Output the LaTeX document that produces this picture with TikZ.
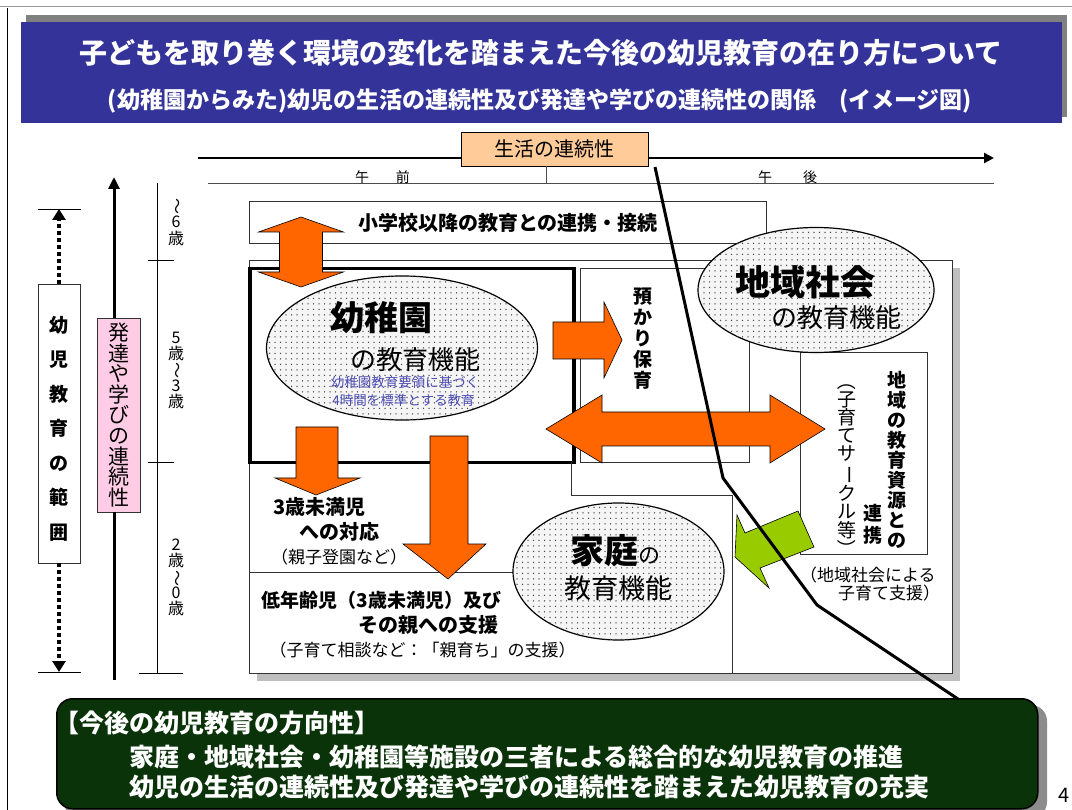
\documentclass[tikz,border=0pt]{standalone}
\usepackage{fontspec}
\usepackage{graphicx}
\setmainfont{Noto Sans CJK JP}
\usetikzlibrary{shapes.geometric,patterns.meta,arrows.meta}
\newcommand{\fs}[1]{\fontsize{#1}{#1}\selectfont}
\newcommand{\vfs}[2]{\fontsize{#1}{#2}\selectfont}
\newcommand{\rt}[1]{\rotatebox[origin=c]{-90}{#1}}
\definecolor{titleblue}{HTML}{333399}
\definecolor{arrorange}{HTML}{FF6600}
\definecolor{peach}{HTML}{FFCC99}
\definecolor{pinkbox}{HTML}{FFCCE6}
\definecolor{darkgreen}{HTML}{0A330A}
\definecolor{limegreen}{HTML}{99CC00}
\definecolor{noteblue}{HTML}{4D4DB3}
\tikzset{
  thinbox/.style={draw=black!80, line width=0.8pt, fill=white, inner sep=0pt},
  blockarrow/.style={fill=arrorange, draw=black, line width=0.6pt, line join=miter},
  greenarrow/.style={fill=limegreen, draw=black, line width=0.6pt, line join=miter},
  dotell/.style={ellipse, draw=black, line width=1.2pt, fill=black!4, inner sep=0pt,
     postaction={pattern={Dots[distance=5.5pt,radius=0.75pt]}, pattern color=black!70}},
  vtxt/.style={align=center, inner sep=0pt},
  lbl/.style={inner sep=0pt},
  divline/.style={draw=black!80, line width=0.8pt},
}
\begin{document}
\begin{tikzpicture}[x=1pt,y=-1pt]
\useasboundingbox[fill=white] (0,0) rectangle (1072,810);
% page frame
\draw[black!40, line width=1pt] (0,7) -- (1072,7);
\draw[black, line width=1pt] (7,8) -- (7,810);
% title
\fill[black!50] (26,15) rectangle (1067,117);
\node[fill=titleblue, minimum width=1041, minimum height=101, anchor=north west, inner sep=0] (title) at (20.5,22) {};
\node[lbl, text=white, font=\bfseries\fs{28}] (t1) at (541,53) {子どもを取り巻く環境の変化を踏まえた今後の幼児教育の在り方について};
\node[lbl, text=white, font=\bfseries\fs{23}] (t2) at (540,100.5) {(幼稚園からみた)幼児の生活の連続性及び発達や学びの連続性の関係\quad(イメージ図)};

% timeline
\node[draw=black, line width=0.8pt, fill=peach, minimum width=187, minimum height=34, inner sep=0, font=\fs{20}] (life) at (554.5,149) {生活の連続性};
\coordinate (tlL) at (198,158);
\coordinate (tlR) at (994,158);
\draw[line width=2.5pt] (tlL) -- (tlL -| life.west);
\draw[line width=2.5pt, -{Triangle[length=10pt,width=10pt]}] (tlR -| life.east) -- (tlR);
\coordinate (amL) at (208,184);
\coordinate (amR) at (994,184);
\draw[black!70, line width=1pt] (amL) -- (amR);
\coordinate (amT) at (546,184);
\draw[black!70, line width=0.8pt] (amT |- life.south) -- (amT);
\node[lbl, font=\fs{14}] (am) at (382.5,177) {午\hspace{27pt}前};
\node[lbl, font=\fs{14}] (pm) at (787.5,177) {午\hspace{31pt}後};

% left axis: range of early childhood education
\node[thinbox, minimum width=42, minimum height=279] (range) at (59,423.5) {};
\node[vtxt, font=\bfseries\vfs{19}{34.5}] (rangeT) at (59,428.5) {幼\\児\\教\\育\\の\\範\\囲};
\coordinate (rTop) at (59,209);
\coordinate (rBot) at (59,672);
\draw[line width=3.5pt, dash pattern=on 3.5pt off 3.5pt, -{Triangle[length=11pt,width=13pt]}] (range.north) -- (rTop);
\draw[line width=3.5pt, dash pattern=on 3.5pt off 3.5pt, -{Triangle[length=11pt,width=13pt]}] (range.south) -- (rBot);
\draw[line width=0.8pt] ([xshift=-21pt]rTop) -- ([xshift=22pt]rTop);
\draw[line width=0.8pt] ([xshift=-21pt]rBot) -- ([xshift=22pt]rBot);

% development / learning continuity
\node[thinbox, fill=pinkbox, minimum width=43, minimum height=194, align=center, font=\vfs{21}{20.6}] (dev) at (118.5,415) {発\\達\\や\\学\\び\\の\\連\\続\\性};
\coordinate (devTop) at (114,177);
\coordinate (devBot) at (114,680);
\draw[line width=3pt, -{Triangle[length=12pt,width=11pt]}] (devTop |- dev.north) -- (devTop);
\draw[line width=3pt] (devBot |- dev.south) -- (devBot);

% age scale
\coordinate (ageTop) at (157,183);
\coordinate (ageBot) at (157,673);
\draw[line width=1pt] (ageTop) -- (ageBot);
\draw[line width=0.8pt] (148,260) -- (174,260);
\draw[line width=0.8pt] (148,462) -- (174,462);
\draw[line width=0.8pt] (139,673) -- (183,673);
\node[vtxt, font=\vfs{16}{17}] (a6) at (176,222) {\rt{～}\\6\\歳};
\node[vtxt, font=\vfs{16}{16}] (a53) at (176,370) {5\\歳\\\rt{～}\\3\\歳};
\node[vtxt, font=\vfs{16}{16}] (a20) at (176,577) {2\\歳\\\rt{～}\\0\\歳};

% main area
\fill[black!25] (257,268) rectangle (960,681);
\node[thinbox, minimum width=703, minimum height=413, anchor=north west] (main) at (249,260) {};
\node[thinbox, minimum width=517, minimum height=42, anchor=north west, font=\bfseries\fs{20}] (ps) at (249,201) {小学校以降の教育との連携・接続};
\node[draw=black, line width=3.5pt, fill=white, minimum width=324, minimum height=194, anchor=north west, inner sep=0] (kg) at (248,267) {};
\node[thinbox, minimum width=169, minimum height=194, anchor=north west] (azk) at (580,268) {};
\node[vtxt, font=\bfseries\vfs{19}{21}] (azkT) at (643,339) {預\\か\\り\\保\\育};
\draw[divline] (249,572) -- (520,572);
\draw[divline] (571,462) -- (571,495) -- (732,495) -- (732,673);
\node[thinbox, minimum width=127, minimum height=202, anchor=north west] (res) at (800,352) {};
\node[vtxt, font=\bfseries\vfs{19}{20}] (resT1) at (897,460) {地\\域\\の\\教\\育\\資\\源\\と\\の};
\node[vtxt, font=\bfseries\vfs{19}{22}] (resT2) at (873,524) {連\\携};
\node[vtxt, font=\vfs{19}{18.2}] (resT3) at (847,465) {\rt{（}\\子\\育\\て\\サ\\\rt{ー}\\ク\\ル\\等\\\rt{）}};
\node[lbl, anchor=west, font=\fs{17}] (resN1) at (800,575) {（地域社会による};
\node[lbl, anchor=west, font=\fs{17}] (resN2) at (838,593) {子育て支援）};

% texts of under-3 sections
\node[lbl, font=\bfseries\fs{20}] (u3a) at (319.5,507) {3歳未満児};
\node[lbl, font=\bfseries\fs{20}] (u3b) at (339,532) {への対応};
\node[lbl, font=\fs{17}] (u3c) at (339,557) {（親子登園など）};
\node[lbl, font=\bfseries\fs{19}] (lowa) at (381.5,600) {低年齢児（3歳未満児）及び};
\node[lbl, font=\bfseries\fs{20}] (lowb) at (428.5,625) {その親への支援};
\node[lbl, font=\fs{17}] (lowc) at (422.5,650) {（子育て相談など：「親育ち」の支援）};

% ellipses
\node[dotell, minimum width=271, minimum height=144] (kgE) at (402,348) {};
\node[lbl, font=\bfseries\fs{34}] (kgT) at (381,318) {幼稚園};
\node[lbl, font=\fs{26}] (kgF) at (415,360) {の教育機能};
\node[lbl, font=\fs{13.5}, text=noteblue] (kgN1) at (405,382) {幼稚園教育要領に基づく};
\node[lbl, font=\fs{13.5}, text=noteblue] (kgN2) at (403.5,400) {4時間を標準とする教育};

\node[dotell, minimum width=236, minimum height=125] (csE) at (816,290) {};
\node[lbl, font=\bfseries\fs{35}] (csT) at (805,282) {地域社会};
\node[lbl, font=\fs{26}] (csF) at (836,318) {の教育機能};

\node[dotell, minimum width=211, minimum height=137] (hmE) at (618.5,571.5) {};
\node[lbl, font=\fs{34}] (hmT) at (615,551) {\textbf{家庭}{\fs{22}の}};
\node[lbl, font=\fs{27}] (hmF) at (618,588) {教育機能};

% orange block arrows
\draw[blockarrow] (301,217) -- (343.5,232) -- (322.5,232) -- (322.5,272) -- (343.5,272) -- (301,287)
  -- (258.5,272) -- (279.5,272) -- (279.5,232) -- (258.5,232) -- cycle;
\draw[blockarrow] (553,322) -- (604,322) -- (604,302) -- (622,340) -- (604,378) -- (604,359) -- (553,359) -- cycle;
\draw[blockarrow] (546,429) -- (602,395) -- (602,412) -- (770,412) -- (770,395) -- (825,429)
  -- (770,463) -- (770,446) -- (602,446) -- (602,463) -- cycle;
\draw[blockarrow] (296,427) -- (338,427) -- (338,478) -- (360,478) -- (316,495) -- (275,478) -- (296,478) -- cycle;
\draw[blockarrow] (430,436) -- (468,436) -- (468,544) -- (486,544) -- (448,579) -- (403,544) -- (430,544) -- cycle;
% green arrow
\draw[greenarrow] (735,557) -- (737,515) -- (745,533) -- (798,511) -- (814,547) -- (760,568) -- (769,588) -- cycle;

% direction box
\fill[black!45, rounded corners=16pt] (64,705) rectangle (1047,818);
\node[draw=black, line width=1.5pt, fill=darkgreen, rounded corners=16pt, minimum width=981, minimum height=110, anchor=north west, inner sep=0] (dir) at (56,698) {};
\node[lbl, anchor=west, text=white, font=\bfseries\fs{25}] (d1) at (54,723) {【今後の幼児教育の方向性】};
\node[lbl, anchor=west, text=white, font=\bfseries\fs{25}] (d2) at (129,757) {家庭・地域社会・幼稚園等施設の三者による総合的な幼児教育の推進};
\node[lbl, anchor=west, text=white, font=\bfseries\fs{25}] (d3) at (129,787) {幼児の生活の連続性及び発達や学びの連続性を踏まえた幼児教育の充実};

% callout line
\coordinate (lineEnd) at (655,167);
\coordinate (k1) at (723,478);
\coordinate (k2) at (817,605);
\coordinate (lineStart) at (958,699);
\draw[line width=3pt, line join=round] (lineStart) -- (k2) -- (k1) -- (lineEnd);

\node[lbl, font=\fs{20}] (pg) at (1064,795) {4};
\end{tikzpicture}
\end{document}
